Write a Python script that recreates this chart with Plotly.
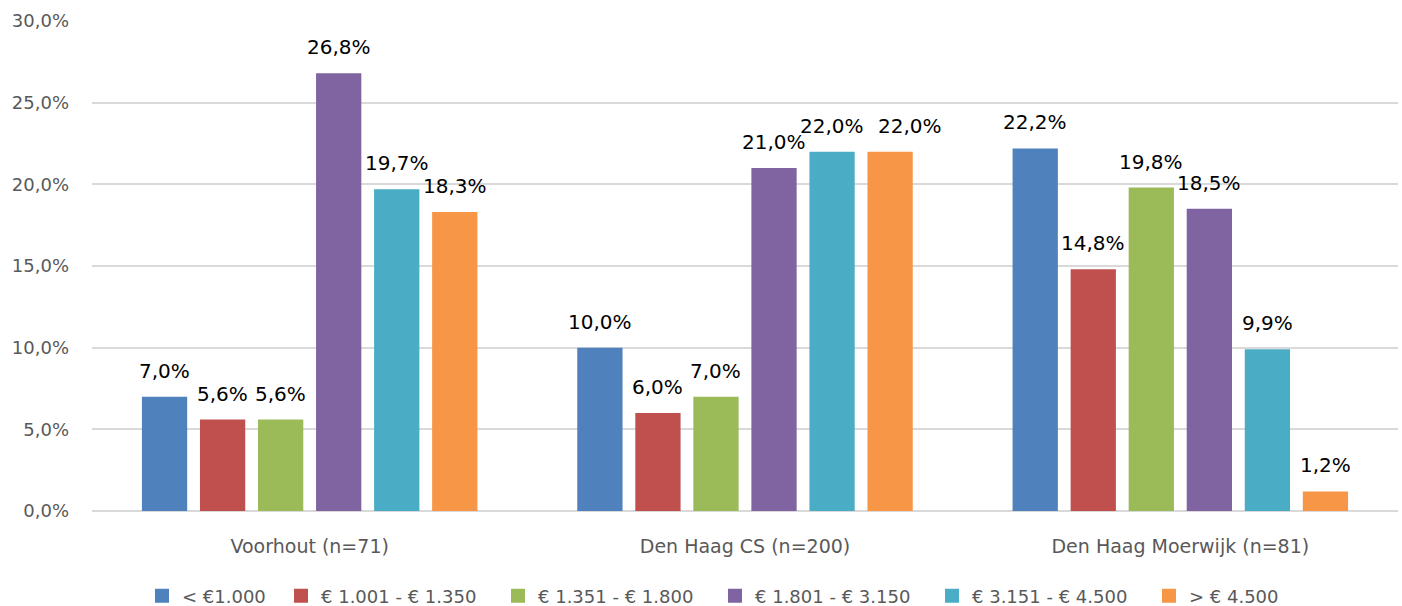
import plotly.graph_objects as go

# Locations surveyed (x-axis groups)
locations = ["Voorhout (n=71)", "Den Haag CS (n=200)", "Den Haag Moerwijk (n=81)"]

# Income brackets (legend entries)
brackets = ["< €1.000", "€ 1.001 - € 1.350", "€ 1.351 - € 1.800",
            "€ 1.801 - € 3.150", "€ 3.151 - € 4.500", "> € 4.500"]

# Share per bracket, per location (percent)
lt_1000 = [7.0, 10.0, 22.2]
b_1001_1350 = [5.6, 6.0, 14.8]
b_1351_1800 = [5.6, 7.0, 19.8]
b_1801_3150 = [26.8, 21.0, 18.5]
b_3151_4500 = [19.7, 22.0, 9.9]
gt_4500 = [18.3, 22.0, 1.2]

series = [lt_1000, b_1001_1350, b_1351_1800, b_1801_3150, b_3151_4500, gt_4500]
colors = ["#4F81BD", "#C0504D", "#9BBB59", "#8064A2", "#4BACC6", "#F79646"]

FONT = "DejaVu Sans, sans-serif"
W, H = 1402, 606
ML, MR, MT, MB = 92, 4, 21, 95
BARGAP = 0.2
BARGROUPGAP = 0.22

# width of one bar slot inside a group, in pixels
plot_w = W - ML - MR
slot_px = plot_w / len(locations) * (1 - BARGAP) / len(series)

# sideways nudge (px) for value labels that would collide with a neighbour
label_nudge = {(5, 1): 20}


def pct(v):
    return f"{v:.1f}%".replace(".", ",")


fig = go.Figure()
annotations = []
for i, (name, vals, col) in enumerate(zip(brackets, series, colors)):
    fig.add_trace(go.Bar(
        x=locations,
        y=[v / 100 for v in vals],
        name=name,
        marker=dict(color=col, line=dict(width=0)),
        showlegend=False,
    ))
    # legend swatch: square marker, no data drawn
    fig.add_trace(go.Scatter(
        x=[None], y=[None], mode="markers", name=name,
        marker=dict(symbol="square", size=14, color=col),
        legend="legend" if i == 0 else "legend2",
        hoverinfo="skip",
    ))
    for j, (loc, v) in enumerate(zip(locations, vals)):
        annotations.append(dict(
            x=loc, y=v / 100, xref="x", yref="y",
            text=pct(v), showarrow=False,
            xanchor="center", yanchor="bottom",
            xshift=(i - (len(series) - 1) / 2) * slot_px + label_nudge.get((i, j), 0),
            yshift=12,
            font=dict(family=FONT, size=20, color="#000000"),
        ))

legend_style = dict(orientation="h", xref="container", yref="container",
                    xanchor="left", y=10 / H, yanchor="middle",
                    font=dict(family=FONT, size=18, color="#595959"),
                    itemwidth=30, traceorder="normal",
                    bgcolor="rgba(0,0,0,0)")

fig.update_layout(
    width=W, height=H,
    margin=dict(l=ML, r=MR, t=MT, b=MB),
    paper_bgcolor="white", plot_bgcolor="white",
    separators=",.",
    barmode="group",
    bargap=BARGAP,
    bargroupgap=BARGROUPGAP,
    font=dict(family=FONT, size=18, color="#595959"),
    showlegend=True,
    annotations=annotations,
    legend=dict(legend_style, x=142 / W),
    legend2=dict(legend_style, x=281 / W, entrywidth=172, entrywidthmode="pixels"),
    xaxis=dict(showgrid=False, showline=False, ticks="", ticklabelstandoff=22,
               tickfont=dict(family=FONT, size=19, color="#595959")),
    yaxis=dict(range=[0, 0.30], dtick=0.05, tickformat=".1%",
               showgrid=True, gridcolor="#D9D9D9", gridwidth=2,
               zeroline=True, zerolinecolor="#D9D9D9", zerolinewidth=2,
               showline=False, ticks="", ticklabelstandoff=22,
               tickfont=dict(family=FONT, size=18, color="#595959")),
)

fig.write_html("out.html")
